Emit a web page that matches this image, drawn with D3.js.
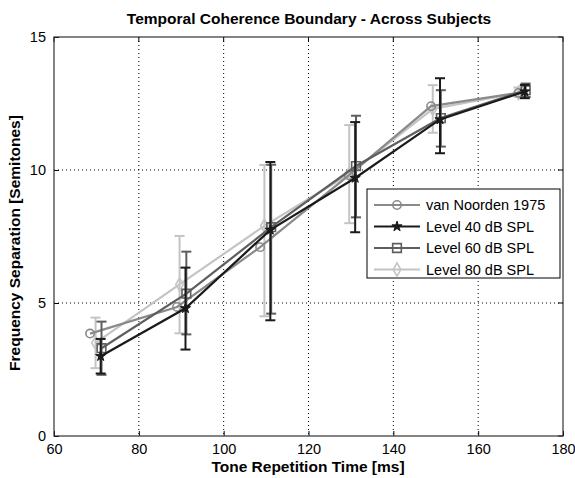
<!DOCTYPE html>
<html><head><meta charset="utf-8">
<script src="https://cdn.jsdelivr.net/npm/d3@7"></script>
<style>
body{margin:0;background:#fff;}
text{font-family:"Liberation Sans",Arial,sans-serif;}
</style></head>
<body><svg id="c" width="575" height="478"></svg>
<script>
const title = "Temporal Coherence Boundary - Across Subjects";
const xLabel = "Tone Repetition Time [ms]";
const yLabel = "Frequency Separation [Semitones]";
const xTicks = [60, 80, 100, 120, 140, 160, 180];
const yTicks = [0, 5, 10, 15];
const seriesNames = ["van Noorden 1975", "Level 40 dB SPL", "Level 60 dB SPL", "Level 80 dB SPL"];

const xVanNoorden = [68.5, 89, 108.6, 129.5, 148.9, 169.5];
const yVanNoorden = [3.85, 4.85, 7.1, 9.8, 12.4, 12.9];

const x40 = [71, 91, 111, 131, 151, 171];
const y40 = [3.0, 4.8, 7.75, 9.7, 11.9, 12.95];
const lo40 = [2.35, 3.25, 4.35, 7.66, 10.63, 12.7];
const hi40 = [3.65, 6.33, 10.3, 11.8, 13.45, 13.2];

const x60 = [71.2, 91.2, 111.2, 131.2, 151.2, 171.2];
const y60 = [3.3, 5.35, 7.85, 10.15, 11.95, 13.0];
const lo60 = [2.3, 3.82, 4.6, 8.22, 10.88, 12.75];
const hi60 = [4.3, 6.93, 10.2, 12.04, 13.0, 13.25];

const x80 = [69.8, 89.6, 109.6, 129.6, 149.3, 169.5];
const y80 = [3.5, 5.7, 7.9, 9.85, 12.3, 12.9];
const lo80 = [2.55, 3.86, 4.5, 8.0, 11.4, 12.75];
const hi80 = [4.45, 7.52, 10.19, 11.69, 13.19, 13.1];

const svg = d3.select("#c");
const L = 54, R = 563, T = 37, B = 436;
const x = d3.scaleLinear().domain([60, 180]).range([L, R]);
const y = d3.scaleLinear().domain([0, 15]).range([B, T]);

// grid
const g = svg.append("g");
g.selectAll(".gx").data(xTicks.slice(1, -1)).enter().append("line")
  .attr("x1", d => x(d)).attr("x2", d => x(d)).attr("y1", T).attr("y2", B)
  .attr("stroke", "#000").attr("stroke-width", 1).attr("stroke-dasharray", "1,3");
g.selectAll(".gy").data(yTicks.slice(1, -1)).enter().append("line")
  .attr("y1", d => y(d)).attr("y2", d => y(d)).attr("x1", L).attr("x2", R)
  .attr("stroke", "#000").attr("stroke-width", 1).attr("stroke-dasharray", "1,3");

// axes
const xAxis = d3.axisBottom(x).tickValues(xTicks).tickSizeInner(-5).tickSizeOuter(0).tickPadding(8);
const yAxis = d3.axisLeft(y).tickValues(yTicks).tickSizeInner(-5).tickSizeOuter(0).tickPadding(8);
const xa = svg.append("g").attr("transform", `translate(0,${B})`).call(xAxis);
const ya = svg.append("g").attr("transform", `translate(${L},0)`).call(yAxis);
[xa, ya].forEach(a => {
  a.select(".domain").remove();
  a.selectAll("line").attr("stroke", "#000");
  a.selectAll("text").attr("font-size", 14.5).attr("fill", "#000")
    .attr("font-family", "'Liberation Sans Narrow','Liberation Sans',Arial,sans-serif");
});
// top/right ticks
svg.append("g").selectAll("line").data(xTicks).enter().append("line")
  .attr("x1", d => x(d)).attr("x2", d => x(d)).attr("y1", T).attr("y2", T + 5).attr("stroke", "#000");
svg.append("g").selectAll("line").data(yTicks).enter().append("line")
  .attr("y1", d => y(d)).attr("y2", d => y(d)).attr("x1", R).attr("x2", R - 5).attr("stroke", "#000");
svg.append("rect").attr("x", L).attr("y", T).attr("width", R - L).attr("height", B - T)
  .attr("fill", "none").attr("stroke", "#333").attr("stroke-width", 1.2);

const series = [
  {name: seriesNames[0], xs: xVanNoorden, ys: yVanNoorden, color: "#8a8a8a", marker: "circle"},
  {name: seriesNames[1], xs: x40, ys: y40, lo: lo40, hi: hi40, color: "#1a1a1a", marker: "star"},
  {name: seriesNames[2], xs: x60, ys: y60, lo: lo60, hi: hi60, color: "#5e5e5e", marker: "square"},
  {name: seriesNames[3], xs: x80, ys: y80, lo: lo80, hi: hi80, color: "#c4c4c4", marker: "diamond"}
];

function marker(sel, type, color) {
  let sym;
  if (type === "circle") sym = d3.symbol(d3.symbolCircle, 55);
  else if (type === "star") sym = d3.symbol(d3.symbolStar, 32);
  else if (type === "square") sym = d3.symbol(d3.symbolSquare, 75);
  else sym = d3.symbol(d3.symbolDiamond, 50);
  sel.append("path").attr("d", sym())
    .attr("fill", type === "star" ? color : "none")
    .attr("stroke", color).attr("stroke-width", type === "star" ? 1 : 1.6);
}

const line = d3.line().x(d => x(d[0])).y(d => y(d[1]));
const order = [3, 0, 2, 1];
order.forEach(i => {
  const s = series[i];
  const pts = s.xs.map((v, j) => [v, s.ys[j]]);
  const sg = svg.append("g");
  if (s.lo) {
    s.xs.forEach((v, j) => {
      const cx = x(v);
      sg.append("line").attr("x1", cx).attr("x2", cx).attr("y1", y(s.lo[j])).attr("y2", y(s.hi[j]))
        .attr("stroke", s.color).attr("stroke-width", 2);
      [s.lo[j], s.hi[j]].forEach(e => {
        sg.append("line").attr("x1", cx - 5).attr("x2", cx + 5).attr("y1", y(e)).attr("y2", y(e))
          .attr("stroke", s.color).attr("stroke-width", 2);
      });
    });
  }
  sg.append("path").datum(pts).attr("d", line).attr("fill", "none")
    .attr("stroke", s.color).attr("stroke-width", 2.2);
  pts.forEach(p => {
    const m = sg.append("g").attr("transform", `translate(${x(p[0])},${y(p[1])})`);
    marker(m, s.marker, s.color);
  });
});

// legend
const lg = svg.append("g");
lg.append("rect").attr("x", 367).attr("y", 189).attr("width", 193).attr("height", 89)
  .attr("fill", "#fff").attr("stroke", "#000").attr("stroke-width", 1);
series.forEach((s, i) => {
  const yy = 205 + i * 21.5;
  lg.append("line").attr("x1", 374).attr("x2", 420).attr("y1", yy).attr("y2", yy)
    .attr("stroke", s.color).attr("stroke-width", 2.2);
  const m = lg.append("g").attr("transform", `translate(397,${yy})`);
  marker(m, s.marker, s.color);
  lg.append("text").attr("x", 426).attr("y", yy + 5).attr("font-size", 14.5).text(s.name)
    .attr("font-family", "'Liberation Sans Narrow','Liberation Sans',Arial,sans-serif");
});

svg.append("text").attr("x", 309).attr("y", 24).attr("text-anchor", "middle")
  .attr("font-size", 15.5).attr("font-weight", "bold").text(title);
svg.append("text").attr("x", 308).attr("y", 472).attr("text-anchor", "middle")
  .attr("font-size", 15.5).attr("font-weight", "bold").text(xLabel);
svg.append("text").attr("transform", "translate(20,243) rotate(-90)").attr("text-anchor", "middle")
  .attr("font-size", 15.5).attr("font-weight", "bold").text(yLabel);
</script></body></html>
